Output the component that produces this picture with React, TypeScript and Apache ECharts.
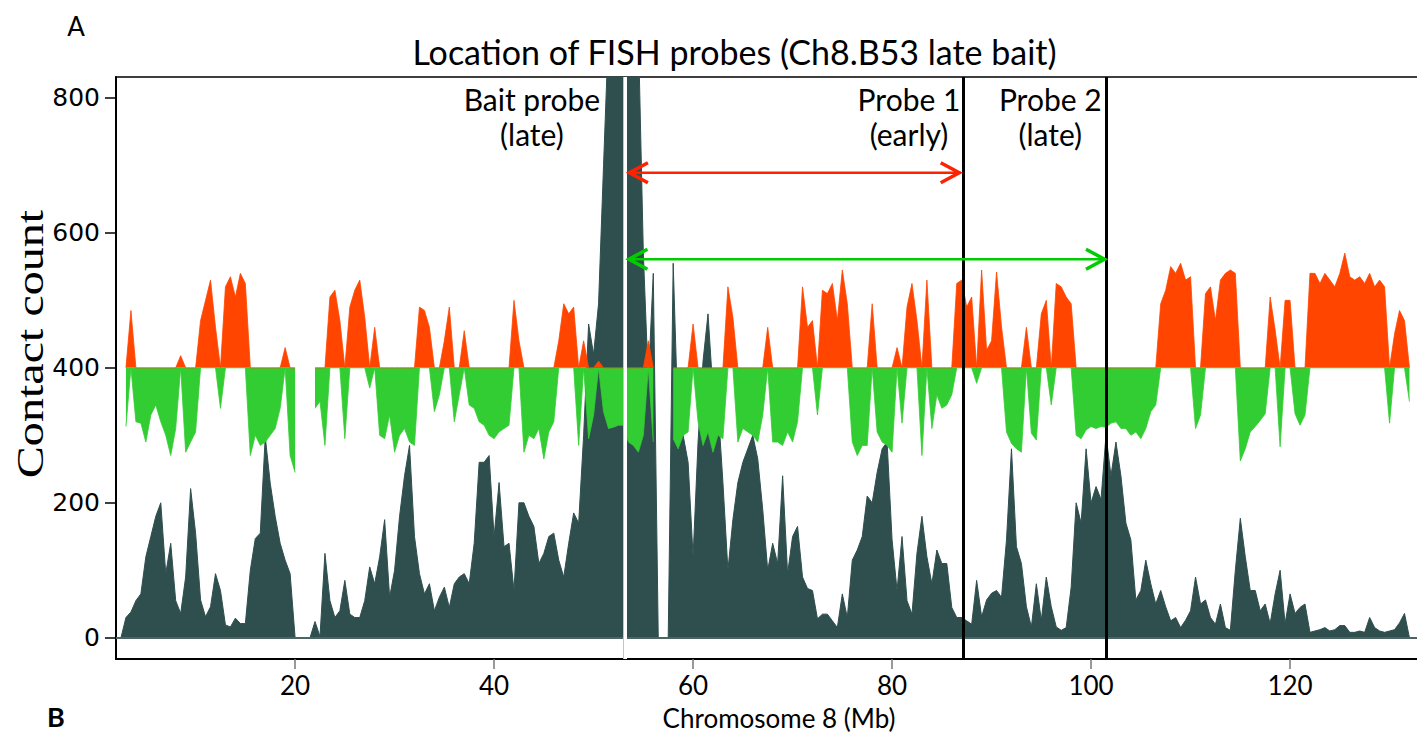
import React, { useEffect, useRef } from "react";
import * as echarts from "echarts";

// Bins of 0.5 Mb starting at 2.5 Mb
const X_START = 2.5;
const X_STEP = 0.5;

// Contact counts (dark area), one value per 0.5 Mb bin, 2.5 .. 132.0 Mb
const contactCount: number[] = [
  0, 30, 38, 55, 65, 120, 150, 180, 200, 95,
  140, 55, 36, 90, 221, 155, 56, 31, 46, 95,
  70, 19, 16, 29, 21, 21, 100, 147, 155, 298,
  229, 180, 140, 115, 95, 0, 0, 0, 0, 24,
  2, 125, 55, 30, 40, 85, 35, 30, 30, 55,
  105, 80, 120, 175, 60, 100, 180, 240, 285, 150,
  95, 65, 80, 40, 60, 75, 45, 80, 90, 95,
  80, 140, 260, 260, 270, 150, 230, 135, 140, 70,
  200, 200, 180, 165, 110, 125, 150, 155, 115, 90,
  140, 185, 170, 300, 465, 420, 495, 700, 900, 900,
  900, 900, 900, 900, 900, 570, 380, 540, 0, 0,
  0, 555, 315, 300, 260, 120, 290, 410, 480, 365,
  345, 230, 100, 175, 230, 260, 280, 300, 265, 190,
  100, 140, 110, 240, 95, 150, 165, 90, 73, 70,
  28, 35, 35, 25, 15, 65, 30, 115, 130, 150,
  210, 200, 245, 280, 290, 145, 70, 150, 55, 35,
  125, 180, 120, 80, 130, 110, 110, 45, 30, 30,
  25, 20, 85, 31, 56, 66, 70, 60, 145, 280,
  135, 110, 46, 16, 80, 26, 90, 46, 16, 11,
  15, 75, 200, 170, 280, 200, 224, 205, 300, 240,
  290, 240, 170, 145, 56, 70, 115, 80, 50, 70,
  46, 25, 30, 15, 26, 40, 90, 50, 56, 30,
  20, 50, 15, 11, 100, 177, 120, 70, 70, 40,
  50, 21, 65, 100, 21, 65, 36, 45, 50, 8,
  10, 12, 15, 10, 12, 18, 18, 8, 8, 10,
  8, 30, 15, 10, 8, 10, 12, 22, 36, 0,
];

// Replication-timing track drawn around the 400 line (above = orange, below = green)
const timing: (number | null)[] = [
  null, 313, 485, 320, 318, 290, 330, 345, 320, 300,
  270, 310, 418, 275, 290, 305, 470, 500, 530, 460,
  340, 520, 535, 505, 540, 525, 270, 300, 285, 290,
  300, 310, 340, 430, 270, 245, null, null, null, 340,
  350, 285, 505, 515, 470, 295, 490, 515, 530, 475,
  370, 460, 300, 295, 330, 275, 300, 310, 290, 285,
  490, 485, 460, 335, 360, 440, 490, 320, 360, 455,
  345, 340, 320, 315, 300, 295, 305, 310, 315, 500,
  440, 275, 300, 295, 310, 265, 305, 320, 440, 495,
  480, 490, 285, 440, 295, 330, 410, 335, 310, 312,
  315, 315, 290, 285, 275, 300, 440, 290, null, null,
  null, 295, 280, 300, 305, 465, 320, 285, 305, 275,
  300, 295, 520, 475, 290, 310, 305, 300, 290, 330,
  460, 290, 290, 285, 305, 290, 320, 520, 460, 470,
  330, 515, 510, 525, 470, 545, 495, 290, 270, 285,
  285, 495, 305, 290, 285, 275, 430, 318, 490, 525,
  470, 270, 530, 310, 360, 340, 345, 360, 525, 530,
  490, 505, 377, 545, 426, 440, 542, 461, 305, 288,
  280, 275, 460, 303, 293, 480, 500, 345, 525, 520,
  505, 495, 300, 295, 308, 313, 310, 313, 312, 318,
  320, 310, 310, 300, 305, 295, 310, 335, 345, 495,
  515, 550, 540, 555, 530, 535, 310, 330, 510, 520,
  470, 530, 540, 545, 540, 262, 280, 305, 313, 322,
  332, 505, 456, 283, 500, 500, 332, 315, 330, 540,
  540, 525, 540, 530, 520, 540, 570, 535, 530, 535,
  525, 540, 520, 530, 520, 318, 450, 485, 470, 350,
];

const TIMING_BASE = 400;

const xTicks = [20, 40, 60, 80, 100, 120];
const yTicks = [0, 200, 400, 600, 800];

const probeLines = [87.2, 101.5];
const baitLine = 53.17;
const baitEdge = 52.95;

const arrows = [
  { from: 53.45, to: 86.9, y: 689, color: "#ff2200" },
  { from: 53.4, to: 101.5, y: 561, color: "#00cc00" },
];

const probeLabels = [
  { x: 43.8, top: "Bait probe", bottom: "(late)" },
  { x: 81.7, top: "Probe 1", bottom: "(early)" },
  { x: 95.9, top: "Probe 2", bottom: "(late)" },
];
const LABEL_Y_TOP = 798;
const LABEL_Y_BOTTOM = 746;

const TITLE = "Location of FISH probes (Ch8.B53 late bait)";
const X_NAME = "Chromosome 8 (Mb)";
const Y_NAME = "Contact count";

const SANS = "Lato";

export default function App() {
  const ref = useRef<HTMLDivElement>(null);

  useEffect(() => {
    if (!ref.current) return;
    const chart = echarts.init(ref.current, undefined, { renderer: "svg" });

    const xs = contactCount.map((_, i) => X_START + i * X_STEP);
    const darkData = xs.map((x, i) => [x, contactCount[i]]);
    const orangeData = xs.map((x, i) => {
      const v = timing[i];
      return [x, v == null ? "-" : Math.max(v, TIMING_BASE)];
    });
    const greenData = xs.map((x, i) => {
      const v = timing[i];
      return [x, v == null ? "-" : Math.min(v, TIMING_BASE)];
    });

    const option: any = {
      animation: false,
      backgroundColor: "#ffffff",
      grid: {
        left: 116,
        right: 8.6,
        top: 77,
        bottom: 75,
        show: true,
        borderColor: "#000",
        borderWidth: 1.5,
        backgroundColor: "transparent",
      },
      xAxis: {
        type: "value",
        min: 2,
        max: 133.2,
        axisLine: { show: true, onZero: false, lineStyle: { color: "#000", width: 2 } },
        axisTick: {
          show: true,
          customValues: xTicks,
          length: 10,
          lineStyle: { color: "#777", width: 1.5 },
        },
        axisLabel: {
          customValues: xTicks,
          fontFamily: SANS,
          fontSize: 26,
          lineHeight: 22,
          color: "#000",
          margin: 15,
        },
        splitLine: { show: false },
      },
      yAxis: {
        type: "value",
        min: -31.5,
        max: 831,
        axisLine: { show: true, lineStyle: { color: "#000", width: 2 } },
        axisTick: {
          show: true,
          customValues: yTicks,
          length: 11,
          lineStyle: { color: "#000", width: 1.5 },
        },
        axisLabel: {
          customValues: yTicks,
          fontFamily: "DejaVu Sans",
          fontSize: 25,
          color: "#000",
          margin: 16,
        },
        splitLine: { show: false },
      },
      series: [
        {
          type: "line",
          data: darkData,
          symbol: "none",
          lineStyle: { color: "#2F4F4F", width: 1 },
          areaStyle: { color: "#2F4F4F", opacity: 1 },
          z: 2,
          markLine: {
            silent: true,
            symbol: "none",
            label: { show: false },
            lineStyle: { color: "#4c6464", width: 2, type: "solid" },
            data: [{ yAxis: 0 }],
          },
        },
        {
          type: "line",
          data: orangeData,
          symbol: "none",
          lineStyle: { color: "#FF4500", width: 0.8 },
          areaStyle: { color: "#FF4500", opacity: 1, origin: TIMING_BASE },
          z: 3,
        },
        {
          type: "line",
          data: greenData,
          symbol: "none",
          lineStyle: { color: "#32CD32", width: 0.8 },
          areaStyle: { color: "#32CD32", opacity: 1, origin: TIMING_BASE },
          z: 3,
        },
        {
          type: "scatter",
          data: [],
          z: 10,
          markLine: {
            silent: true,
            symbol: "none",
            label: { show: false },
            data: [
              ...probeLines.map((x) => ({
                xAxis: x,
                lineStyle: { color: "#000", width: 3, type: "solid" },
              })),
              { xAxis: baitLine, lineStyle: { color: "#ffffff", width: 4, type: "solid" } },
              { xAxis: baitEdge, lineStyle: { color: "#c4c4c4", width: 1, type: "solid" } },
            ],
          },
        },
      ],
    };

    chart.setOption(option);

    const px = (x: number, y: number) =>
      chart.convertToPixel({ gridIndex: 0 }, [x, y]) as number[];

    const text = (x: number, y: number, t: string, font: string, extra: any = {}) => ({
      type: "text",
      z: 100,
      x,
      y,
      ...extra,
      style: {
        text: t,
        font,
        fill: "#000",
        textAlign: "center",
        textVerticalAlign: "middle",
      },
    });

    const graphics: any[] = [];
    arrows.forEach((a) => {
      const [x1, y] = px(a.from, a.y);
      const [x2] = px(a.to, a.y);
      graphics.push({
        type: "line",
        z: 100,
        shape: { x1, y1: y, x2, y2: y },
        style: { stroke: a.color, lineWidth: 2.6 },
      });
      graphics.push({
        type: "polyline",
        z: 100,
        shape: { points: [[x1 + 20, y - 10], [x1 + 1.5, y], [x1 + 20, y + 10]] },
        style: { stroke: a.color, lineWidth: 3.5, fill: "none" },
      });
      graphics.push({
        type: "polyline",
        z: 100,
        shape: { points: [[x2 - 20, y - 10], [x2 - 1.5, y], [x2 - 20, y + 10]] },
        style: { stroke: a.color, lineWidth: 3.5, fill: "none" },
      });
    });

    probeLabels.forEach((l) => {
      const [lx, ly1] = px(l.x, LABEL_Y_TOP);
      const [, ly2] = px(l.x, LABEL_Y_BOTTOM);
      graphics.push(text(lx, ly1, l.top, `30px ${SANS}`));
      graphics.push(text(lx, ly2, l.bottom, `30px ${SANS}`));
    });

    graphics.push(text(734.5, 51, TITLE, `34px ${SANS}`));
    graphics.push(text(779, 717.5, X_NAME, `26px ${SANS}`));
    graphics.push(
      text(30, 344, Y_NAME, `37px "Liberation Serif"`, { rotation: Math.PI / 2, scaleX: 1.3 })
    );
    graphics.push(text(76, 26, "A", `26px ${SANS}`));
    graphics.push(text(56, 716, "B", `bold 27px ${SANS}`));

    chart.setOption({ graphic: graphics });

    return () => chart.dispose();
  }, []);

  return (
    <div
      ref={ref}
      style={{ position: "fixed", left: 0, top: 0, width: 1430, height: 734, background: "#fff" }}
    />
  );
}
